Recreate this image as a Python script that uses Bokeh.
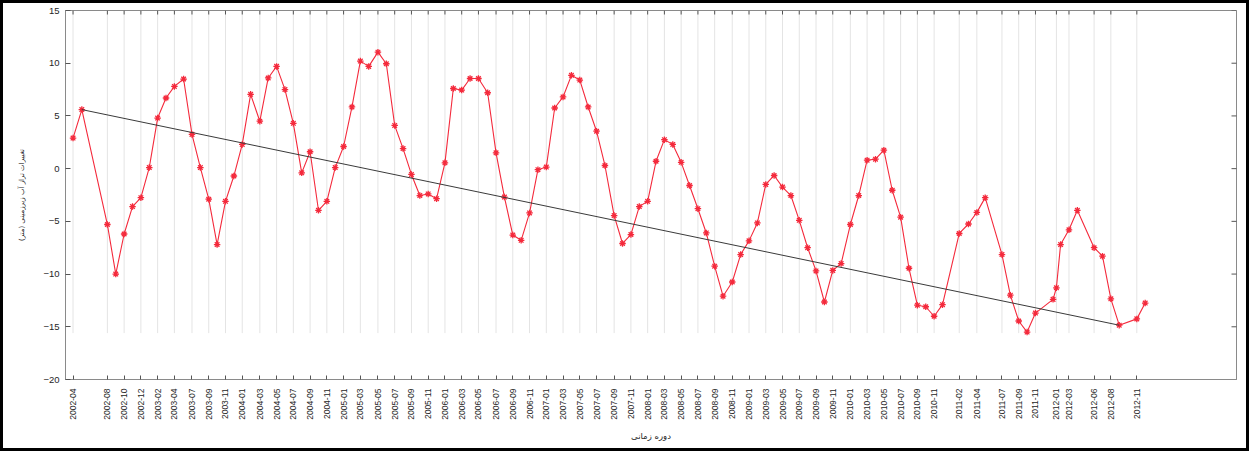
import math
from bokeh.plotting import figure
from bokeh.models import (FixedTicker, Range1d, ColumnDataSource,
                          CustomJSTickFormatter)
from bokeh.embed import file_html
from bokeh.resources import INLINE

# ---------------- data ----------------
months = [
    "2002-04", "2002-05", "2002-08", "2002-09", "2002-10", "2002-11", "2002-12",
    "2003-01", "2003-02", "2003-03", "2003-04", "2003-05", "2003-07", "2003-08",
    "2003-09", "2003-10", "2003-11", "2003-12",
    "2004-01", "2004-02", "2004-03", "2004-04", "2004-05", "2004-06", "2004-07",
    "2004-08", "2004-09", "2004-10", "2004-11", "2004-12",
    "2005-01", "2005-02", "2005-03", "2005-04", "2005-05", "2005-06", "2005-07",
    "2005-08", "2005-09", "2005-10", "2005-11", "2005-12",
    "2006-01", "2006-02", "2006-03", "2006-04", "2006-05", "2006-06", "2006-07",
    "2006-08", "2006-09", "2006-10", "2006-11", "2006-12",
    "2007-01", "2007-02", "2007-03", "2007-04", "2007-05", "2007-06", "2007-07",
    "2007-08", "2007-09", "2007-10", "2007-11", "2007-12",
    "2008-01", "2008-02", "2008-03", "2008-04", "2008-05", "2008-06", "2008-07",
    "2008-08", "2008-09", "2008-10", "2008-11", "2008-12",
    "2009-01", "2009-02", "2009-03", "2009-04", "2009-05", "2009-06", "2009-07",
    "2009-08", "2009-09", "2009-10", "2009-11", "2009-12",
    "2010-01", "2010-02", "2010-03", "2010-04", "2010-05", "2010-06", "2010-07",
    "2010-08", "2010-09", "2010-10", "2010-11", "2010-12",
    "2011-02", "2011-03", "2011-04", "2011-05", "2011-07", "2011-08", "2011-09",
    "2011-10", "2011-11", "2011-12",
    "2012-01", "2012-02", "2012-03", "2012-04", "2012-06", "2012-07", "2012-08",
    "2012-09", "2012-11", "2012-12",
]

obs_time = [
    0.0, 1.05, 4.1, 5.1, 6.1, 7.1, 8.1,
    9.1, 10.1, 11.1, 12.1, 13.2, 14.2, 15.2, 16.2, 17.2, 18.2, 19.2,
    20.2, 21.2, 22.3, 23.3, 24.3, 25.3, 26.3, 27.3, 28.3, 29.3, 30.3, 31.3,
    32.3, 33.3, 34.3, 35.3, 36.4, 37.4, 38.4, 39.4, 40.4, 41.4, 42.4, 43.4,
    44.4, 45.4, 46.4, 47.4, 48.4, 49.5, 50.5, 51.5, 52.5, 53.5, 54.5, 55.5,
    56.5, 57.5, 58.5, 59.5, 60.5, 61.5, 62.5, 63.5, 64.6, 65.6, 66.6, 67.6,
    68.6, 69.6, 70.6, 71.6, 72.6, 73.6, 74.6, 75.6, 76.6, 77.6, 78.7, 79.7,
    80.7, 81.7, 82.7, 83.7, 84.7, 85.7, 86.7, 87.7, 88.7, 89.7, 90.7, 91.7,
    92.8, 93.8, 94.8, 95.8, 96.8, 97.8, 98.8, 99.8, 100.8, 101.8, 102.8, 103.8,
    105.8, 106.9, 107.9, 108.9, 110.9, 111.9, 112.9, 113.9, 114.9, 117.0,
    117.4, 117.9, 118.9, 119.9, 121.9, 122.9, 123.9, 124.9, 127.0, 128.0,
]

storage_change = [
    2.9, 5.6, -5.3, -10.0, -6.2, -3.6, -2.75,
    0.1, 4.8, 6.7, 7.8, 8.5, 3.25, 0.1, -2.9, -7.2, -3.1, -0.7,
    2.3, 7.05, 4.5, 8.6, 9.7, 7.5, 4.3, -0.4, 1.6, -3.95, -3.1, 0.1,
    2.1, 5.85, 10.2, 9.7, 11.05, 9.95, 4.1, 1.9, -0.55, -2.55, -2.4, -2.85,
    0.55, 7.6, 7.45, 8.55, 8.55, 7.2, 1.5, -2.7, -6.3, -6.8, -4.2, -0.1,
    0.15, 5.75, 6.8, 8.85, 8.4, 5.85, 3.55, 0.3, -4.45, -7.1, -6.25, -3.6,
    -3.1, 0.7, 2.75, 2.3, 0.6, -1.6, -3.8, -6.1, -9.25, -12.1, -10.75, -8.15,
    -6.85, -5.15, -1.5, -0.65, -1.75, -2.55, -4.9, -7.5, -9.7, -12.65, -9.65, -9.0,
    -5.3, -2.55, 0.8, 0.9, 1.75, -2.05, -4.6, -9.45, -12.95, -13.1, -14.0, -12.9,
    -6.15, -5.25, -4.15, -2.75, -8.15, -12.0, -14.45, -15.5, -13.7, -12.4,
    -11.3, -7.2, -5.8, -3.95, -7.5, -8.3, -12.35, -14.85, -14.25, -12.75,
]

tick_months = [
    "2002-04", "2002-08", "2002-10", "2002-12", "2003-02", "2003-04", "2003-07",
    "2003-09", "2003-11", "2004-01", "2004-03", "2004-05", "2004-07", "2004-09",
    "2004-11", "2005-01", "2005-03", "2005-05", "2005-07", "2005-09", "2005-11",
    "2006-01", "2006-03", "2006-05", "2006-07", "2006-09", "2006-11", "2007-01",
    "2007-03", "2007-05", "2007-07", "2007-09", "2007-11", "2008-01", "2008-03",
    "2008-05", "2008-07", "2008-09", "2008-11", "2009-01", "2009-03", "2009-05",
    "2009-07", "2009-09", "2009-11", "2010-01", "2010-03", "2010-05", "2010-07",
    "2010-09", "2010-11", "2011-02", "2011-04", "2011-07", "2011-09", "2011-11",
    "2012-01", "2012-03", "2012-06", "2012-08", "2012-11",
]

y_ticks = [-20, -15, -10, -5, 0, 5, 10, 15]

# trend line drawn between these two observations
trend_months = ["2002-05", "2012-09"]

y_label = "تغییرات تراز آب زیرزمینی (متر)"
x_label = "دوره زمانی"

# ---------------- styling ----------------
RED = "#f42a3c"
AXIS = "#8a8a8a"
TICK = "#555555"
TXT = "#262626"
GRID = "#e4e4e4"
GRID_BOTTOM = -15.6

x_lo, x_hi = -0.9, 138.9
y_lo, y_hi = -20, 15

idx = {m: i for i, m in enumerate(months)}
tick_pos = [obs_time[idx[m]] for m in tick_months]
trend_x = [obs_time[idx[m]] for m in trend_months]
trend_y = [storage_change[idx[m]] for m in trend_months]

p = figure(width=1249, height=451, output_backend="svg", toolbar_location=None,
           x_range=Range1d(x_lo, x_hi), y_range=Range1d(y_lo, y_hi),
           min_border_left=62, min_border_right=16, min_border_top=7,
           min_border_bottom=75, background_fill_color="white",
           border_fill_color="white")
p.styles = {"border": "3px solid black"}
p.outline_line_color = AXIS
p.xgrid.visible = False
p.ygrid.visible = False

# vertical grid lines at tick positions
p.segment(x0=tick_pos, y0=[GRID_BOTTOM] * len(tick_pos), x1=tick_pos,
          y1=[y_hi] * len(tick_pos), line_color=GRID, line_width=1)

# mirrored inward ticks on the top and right edges of the box
p.scatter(x=tick_pos, y=[y_hi] * len(tick_pos), marker="dash", angle=math.pi / 2,
          size=8, line_color=TICK, line_width=1)
p.scatter(x=[x_hi] * len(y_ticks), y=y_ticks, marker="dash", size=10,
          line_color=TICK, line_width=1)

src = ColumnDataSource(dict(t=obs_time, v=storage_change))
p.line("t", "v", source=src, line_color=RED, line_width=1.1)
p.scatter("t", "v", source=src, marker="asterisk", size=6.5, line_color=RED,
          line_width=1.3)
p.line(trend_x, trend_y, line_color="#3a3a3a", line_width=1)

xfmt = CustomJSTickFormatter(args=dict(pos=tick_pos, lab=tick_months), code="""
const i = pos.findIndex(v => Math.abs(v - tick) < 1e-6);
return i >= 0 ? lab[i] : "";
""")

xa = p.xaxis[0]
xa.ticker = FixedTicker(ticks=tick_pos)
xa.formatter = xfmt
xa.major_label_orientation = math.pi / 2
xa.major_label_text_font = "Liberation Sans"
xa.major_label_text_font_size = "8.5px"
xa.major_label_text_color = TXT
xa.major_label_standoff = 9
xa.major_tick_in = 4
xa.major_tick_out = 0
xa.minor_tick_line_color = None
xa.axis_line_color = AXIS
xa.major_tick_line_color = TICK
xa.axis_label = x_label
xa.axis_label_text_font = "DejaVu Sans"
xa.axis_label_text_font_size = "8.5px"
xa.axis_label_text_font_style = "normal"
xa.axis_label_text_color = TXT
xa.axis_label_standoff = 8

ya = p.yaxis[0]
ya.ticker = FixedTicker(ticks=y_ticks)
ya.major_label_text_font = "Liberation Sans"
ya.major_label_text_font_size = "9.5px"
ya.major_label_text_color = TXT
ya.major_label_standoff = 6
ya.major_tick_in = 5
ya.major_tick_out = 0
ya.minor_tick_line_color = None
ya.axis_line_color = AXIS
ya.major_tick_line_color = TICK
ya.axis_label = y_label
ya.axis_label_text_font = "DejaVu Sans"
ya.axis_label_text_font_size = "7px"
ya.axis_label_text_font_style = "normal"
ya.axis_label_text_color = TXT
ya.axis_label_standoff = 14

open("out.html", "w").write(file_html(p, INLINE))
